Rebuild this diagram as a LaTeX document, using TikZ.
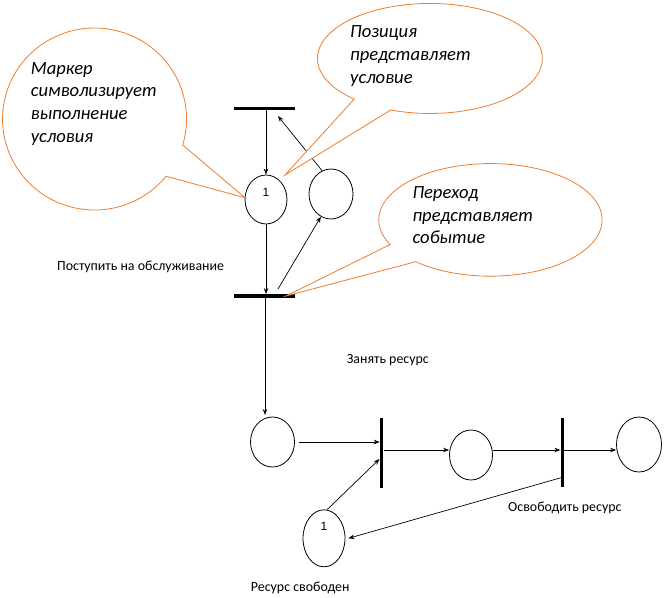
\documentclass[tikz,border=0pt]{standalone}
\usepackage{fontspec}
\setmainfont{Carlito}
\newfontfamily\arialfont{Liberation Sans}
\usetikzlibrary{shapes.geometric,arrows.meta,calc}
\definecolor{calloutc}{RGB}{237,125,49}
\begin{document}
\begin{tikzpicture}[x=1pt,y=1pt,
 place/.style={draw, ellipse, line width=0.8pt, inner sep=0pt},
 bar/.style={fill=black, inner sep=0pt, draw=none},
 arr/.style={-{Stealth[length=6pt,width=4.5pt]}, line width=0.7pt},
 callout/.style={draw=calloutc, fill=white, line width=0.8pt},
 lbl/.style={anchor=base west, inner sep=0pt, font=\fontsize{13.9}{16}\selectfont},
 tok/.style={font=\arialfont\fontsize{12}{14}\selectfont},
 ctext/.style={anchor=base west, inner sep=0pt, font=\fontsize{18.6}{22.7}\selectfont\itshape}
]
\useasboundingbox (0,0) rectangle (666,-597);

% transitions
\node[bar, minimum width=61pt, minimum height=3.5pt] (t1) at (264.5,-108.3) {};
\node[bar, minimum width=61pt, minimum height=3.5pt] (t2) at (264.5,-296) {};
\node[bar, minimum width=3.5pt, minimum height=70pt] (t3) at (381.7,-453) {};
\node[bar, minimum width=3.5pt, minimum height=69pt] (t4) at (562.3,-452.3) {};

% places
\node[place, minimum width=42pt, minimum height=49pt, label={[tok, yshift=7.5pt]center:1}] (p1) at (266,-199.5) {};
\node[place, minimum width=44pt, minimum height=50pt] (p2) at (331,-194) {};
\node[place, minimum width=44pt, minimum height=50pt] (p3) at (272.5,-442) {};
\node[place, minimum width=42pt, minimum height=57pt, label={[tok, yshift=12pt]center:1}] (pres) at (324,-538.3) {};
\node[place, minimum width=43pt, minimum height=50pt] (p4) at (471,-455) {};
\node[place, minimum width=45pt, minimum height=55pt] (p5) at (639,-444.5) {};

% arcs
\draw[arr] (p1 |- t1.south) -- (p1.north);
\draw[arr] (p1.south) -- (p1 |- t2.north);
\coordinate (c21) at (278,-116);
\draw[arr] (p2.111) -- (c21);
\coordinate (c22) at (278,-289);
\draw[arr] (c22) -- (p2.246);
\coordinate (c23) at (265,-415);
\draw[arr] (t2.south -| c23) -- (c23);
\draw[arr] ([xshift=4.5pt]p3.east) -- (t3.west |- p3.east);
\coordinate (c33) at (379.5,-459);
\draw[arr] (pres.84) -- (c33);
\coordinate (ya) at (0,-450);
\draw[arr] (t3.east |- ya) -- (p4.west |- ya);
\draw[arr] (p4.east |- ya) -- (t4.west |- ya);
\draw[arr] (t4.east |- ya) -- (p5.west |- ya);
\coordinate (c41) at (561,-477.7);
\draw[arr] (c41) -- ([xshift=3pt]pres.east);

% labels
\node[lbl] (l1) at (57,-270) {Поступить на обслуживание};
\node[lbl] (l2) at (346.7,-363.3) {Занять ресурс};
\node[lbl] (l3) at (508,-511.5) {Освободить ресурс};
\node[lbl] (l4) at (250.7,-591.5) {Ресурс свободен};

% callouts
\draw[callout] (182.7,-145) arc[start angle=-16.6, end angle=321, x radius=92, y radius=91]
  -- (245,-197.7) -- cycle;
\node[ctext] (ct1) at (30.7,-74) {Маркер};
\node[ctext] (ct1b) at (30.7,-96.7) {символизирует};
\node[ctext] (ct1c) at (30.7,-119.3) {выполнение};
\node[ctext] (ct1d) at (30.7,-142) {условия};

\draw[callout] (390.7,-110) arc[start angle=249.6, end angle=587.7, x radius=112.5, y radius=55]
  -- (285,-175) -- cycle;
\node[ctext] (ct2) at (350,-37.7) {Позиция};
\node[ctext] (ct2b) at (350,-60.3) {представляет};
\node[ctext] (ct2c) at (350,-83.3) {условие};

\draw[callout] (415.7,-261.7) arc[start angle=228, end angle=566, x radius=111.7, y radius=56.3]
  -- (286,-296) -- cycle;
\node[ctext] (ct3) at (412.3,-198.7) {Переход};
\node[ctext] (ct3b) at (412.3,-221) {представляет};
\node[ctext] (ct3c) at (412.3,-243.7) {событие};
\end{tikzpicture}
\end{document}
